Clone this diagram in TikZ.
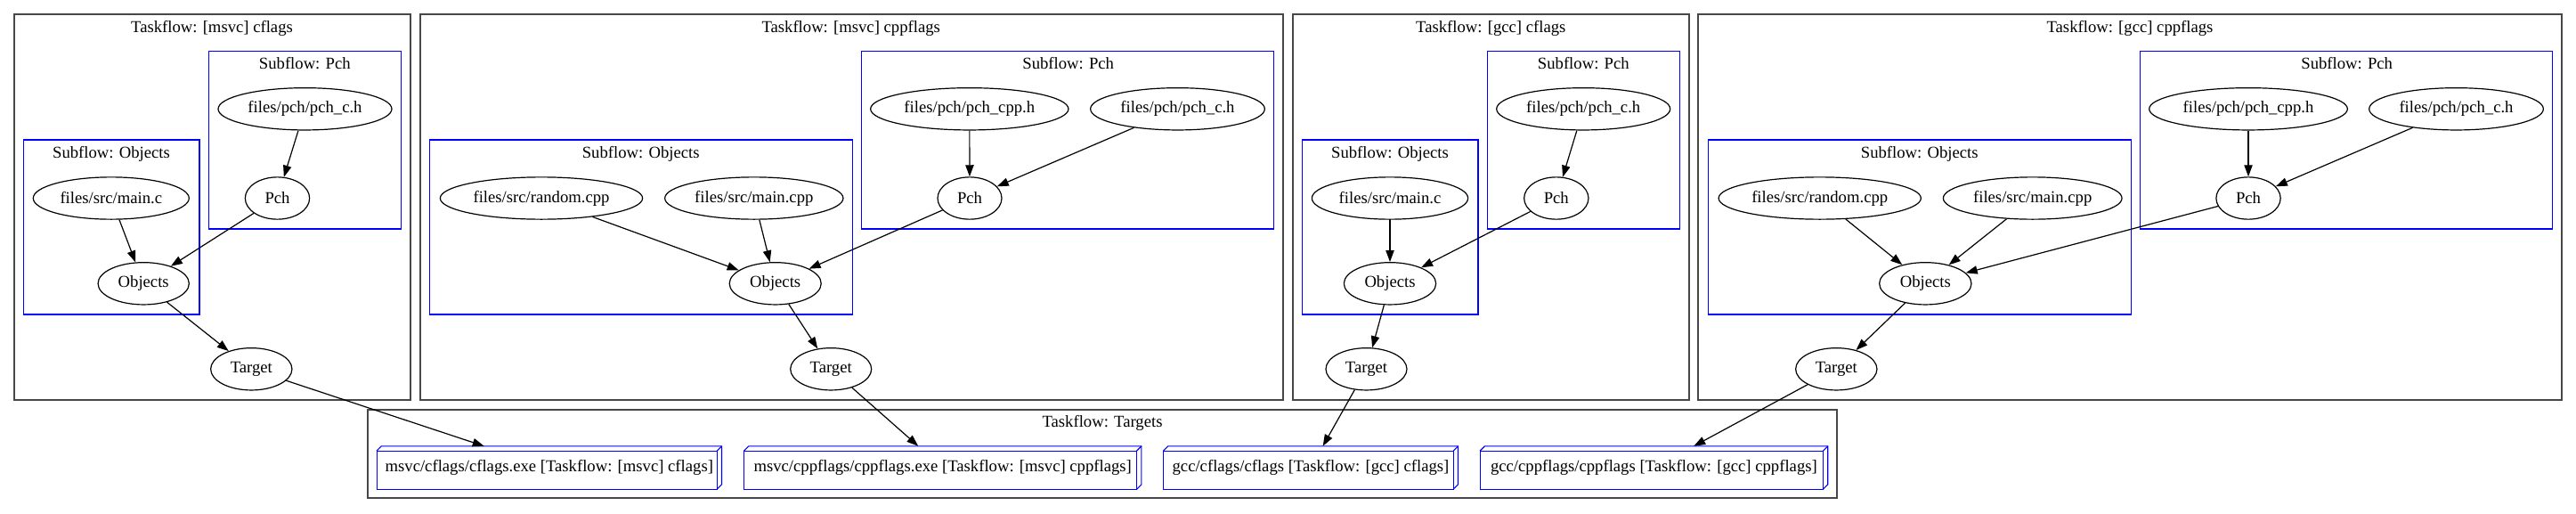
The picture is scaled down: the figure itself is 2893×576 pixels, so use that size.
\documentclass[tikz,border=0pt]{standalone}
\usepackage{fontspec}
\setmainfont{Liberation Serif}
\usetikzlibrary{arrows.meta,calc,shapes.geometric}
\newcommand\drawboxthreed[1]{%
  \draw[boxline] ($(#1.north west)+(0,5.3)$) rectangle ($(#1.south east)-(5.3,0)$);
  \draw[boxline] ($(#1.north west)+(0,5.3)$) -- ($(#1.north west)+(5.3,0)$) -- (#1.north east) -- ($(#1.south east)+(0,-5.3)$) -- ($(#1.south east)+(-5.3,0)$);
  \draw[boxline] ($(#1.north east)+(-5.3,5.3)$) -- (#1.north east);
}
\begin{document}
\begin{tikzpicture}[x=1pt,y=-1pt,
  every node/.style={font=\fontsize{18.67}{22}\selectfont},
  task/.style={ellipse,draw,line width=1.2pt,minimum height=47.3pt,inner sep=0pt},
  flowbox/.style={draw=black!72,line width=2pt},
  subbox/.style={draw=blue,line width=1.1pt},
  title/.style={anchor=base,inner sep=0pt},
  edge/.style={draw,line width=1.2pt,-{Triangle[length=13pt,width=9.3pt]}},
  target/.style={rectangle,minimum height=48pt,inner sep=0pt},
  boxline/.style={draw=blue,line width=1.1pt,line join=miter}
]
\useasboundingbox (0,0) rectangle (2893,576);

% ---------- cluster boxes ----------
\draw[flowbox] (15.7,15.7) rectangle (461,449);
\draw[flowbox] (471.7,15.7) rectangle (1441.3,449);
\draw[flowbox] (1451.7,15.7) rectangle (1897,449);
\draw[flowbox] (1907.3,15.7) rectangle (2877,449);
\draw[flowbox] (412.7,460) rectangle (2063,559.3);

\draw[subbox] (234.3,57.3) rectangle (450.7,257);
\draw[subbox] (26.3,157) rectangle (224,353);
\draw[subbox] (482.3,157) rectangle (957.3,353);
\draw[subbox] (967.7,57.3) rectangle (1430.7,257);
\draw[subbox] (1670.3,57.3) rectangle (1886.7,257);
\draw[subbox] (1462.3,157) rectangle (1660,353);
\draw[subbox] (1918.3,157) rectangle (2393.3,353);
\draw[subbox] (2403.7,57.3) rectangle (2866.7,257);

% ---------- titles ----------
\node[title] (ta) at (238,36) {Taskflow: [msvc] cflags};
\node[title] (tb) at (955.7,36) {Taskflow: [msvc] cppflags};
\node[title] (tc) at (1674.3,36) {Taskflow: [gcc] cflags};
\node[title] (td) at (2392,36) {Taskflow: [gcc] cppflags};
\node[title] (tt) at (1238,479.3) {Taskflow: Targets};

\node[title] (sap) at (342.3,77.7) {Subflow: Pch};
\node[title] (sao) at (125,177.7) {Subflow: Objects};
\node[title] (sbo) at (719.7,177.7) {Subflow: Objects};
\node[title] (sbp) at (1199.7,77.7) {Subflow: Pch};
\node[title] (scp) at (1778.3,77.7) {Subflow: Pch};
\node[title] (sco) at (1561,177.7) {Subflow: Objects};
\node[title] (sdo) at (2155.7,177.7) {Subflow: Objects};
\node[title] (sdp) at (2635.7,77.7) {Subflow: Pch};

% ---------- msvc cflags ----------
\node[task,minimum width=195pt] (apchc) at (342.5,122.3) {files/pch/pch\_c.h};
\node[task,minimum width=72.3pt] (apch) at (311.5,222.5) {Pch};
\node[task,minimum width=175pt] (amain) at (124.8,222.5) {files/src/main.c};
\node[task,minimum width=102.3pt] (aobj) at (161.2,318.3) {Objects};
\node[task,minimum width=91.3pt] (atgt) at (282.3,414.3) {Target};

% ---------- msvc cppflags ----------
\node[task,minimum width=222.3pt] (bpchcpp) at (1088.8,122.3) {files/pch/pch\_cpp.h};
\node[task,minimum width=195.7pt] (bpchc) at (1322.5,122.3) {files/pch/pch\_c.h};
\node[task,minimum width=72pt] (bpch) at (1089,222.5) {Pch};
\node[task,minimum width=227.3pt] (brand) at (608,222.5) {files/src/random.cpp};
\node[task,minimum width=200.3pt] (bmain) at (846.8,222.5) {files/src/main.cpp};
\node[task,minimum width=103pt] (bobj) at (870.7,318.3) {Objects};
\node[task,minimum width=91pt] (btgt) at (933.2,414.3) {Target};

% ---------- gcc cflags ----------
\node[task,minimum width=195pt] (cpchc) at (1778.2,122.3) {files/pch/pch\_c.h};
\node[task,minimum width=72.3pt] (cpch) at (1747.8,222.5) {Pch};
\node[task,minimum width=175.3pt] (cmain) at (1561,222.5) {files/src/main.c};
\node[task,minimum width=103.3pt] (cobj) at (1561,318.3) {Objects};
\node[task,minimum width=91pt] (ctgt) at (1534.5,414.3) {Target};

% ---------- gcc cppflags ----------
\node[task,minimum width=222.7pt] (dpchcpp) at (2525,122.3) {files/pch/pch\_cpp.h};
\node[task,minimum width=195.7pt] (dpchc) at (2758.5,122.3) {files/pch/pch\_c.h};
\node[task,minimum width=72.3pt] (dpch) at (2525,222.5) {Pch};
\node[task,minimum width=227.3pt] (drand) at (2043.7,222.5) {files/src/random.cpp};
\node[task,minimum width=200.7pt] (dmain) at (2282.7,222.5) {files/src/main.cpp};
\node[task,minimum width=103.3pt] (dobj) at (2162.3,318.3) {Objects};
\node[task,minimum width=91.3pt] (dtgt) at (2062.3,414.3) {Target};

% ---------- targets ----------
\node[target,minimum width=387pt] (m1) at (616.8,525) {msvc/cflags/cflags.exe [Taskflow: [msvc] cflags]};
\node[target,minimum width=446pt] (m2) at (1058.7,525) {msvc/cppflags/cppflags.exe [Taskflow: [msvc] cppflags]};
\node[target,minimum width=330.6pt] (m3) at (1472,525) {gcc/cflags/cflags [Taskflow: [gcc] cflags]};
\node[target,minimum width=390.2pt] (m4) at (1857.4,525) {gcc/cppflags/cppflags [Taskflow: [gcc] cppflags]};
\drawboxthreed{m1}
\drawboxthreed{m2}
\drawboxthreed{m3}
\drawboxthreed{m4}

% ---------- edges ----------
\path[edge] (apchc) -- (apch);
\path[edge] (amain) -- (aobj);
\path[edge] (apch) -- (aobj);
\path[edge] (aobj) -- (atgt);

\path[edge] (bpchcpp) -- (bpch);
\path[edge] (bpchc) -- (bpch);
\path[edge] (brand) -- (bobj);
\path[edge] (bmain) -- (bobj);
\path[edge] (bpch) -- (bobj);
\path[edge] (bobj) -- (btgt);

\path[edge] (cpchc) -- (cpch);
\path[edge] (cmain) -- (cobj);
\path[edge] (cpch) -- (cobj);
\path[edge] (cobj) -- (ctgt);

\path[edge] (dpchcpp) -- (dpch);
\path[edge] (dpchc) -- (dpch);
\path[edge] (drand) -- (dobj);
\path[edge] (dmain) -- (dobj);
\path[edge] (dpch) -- (dobj);
\path[edge] (dobj) -- (dtgt);

\path[edge] (atgt) -- (m1);
\path[edge] (btgt) -- (m2);
\path[edge] (ctgt) -- (m3);
\path[edge] (dtgt) -- (m4);
\end{tikzpicture}
\end{document}
